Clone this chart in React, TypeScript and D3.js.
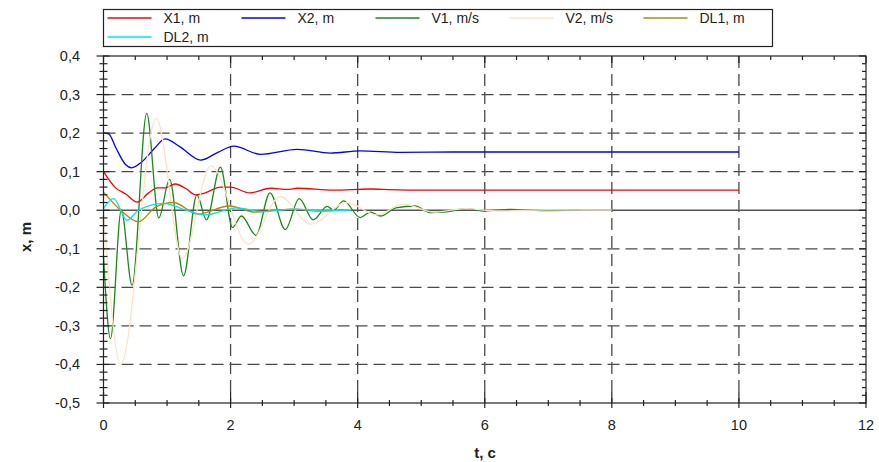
import React, { useEffect, useRef } from "react";
import * as d3 from "d3";

// legend / series
const seriesNames = ["X1, m", "X2, m", "V1, m/s", "V2, m/s", "DL1, m", "DL2, m"];
const seriesColors = ["#ff0000", "#0000ff", "#1a8a1a", "#ffe2c6", "#b8860b", "#00e6e6"];

// X1 (red)
const x1T = [0, 0.19, 0.35, 0.53, 0.71, 0.85, 0.97, 1.13, 1.29, 1.45, 1.6, 1.84, 2.0, 2.3, 2.63, 2.9, 3.05, 3.62, 4.2, 4.4, 5, 10];
const x1V = [0.1, 0.058, 0.042, 0.021, 0.045, 0.058, 0.058, 0.068, 0.057, 0.04, 0.045, 0.06, 0.06, 0.045, 0.057, 0.054, 0.057, 0.052, 0.055, 0.054, 0.052, 0.052];

// X2 (blue)
const x2T = [0, 0.08, 0.2, 0.35, 0.44, 0.6, 0.8, 0.97, 1.2, 1.53, 1.8, 2.05, 2.47, 3.05, 3.57, 4.04, 4.67, 5.5, 10];
const x2V = [0.2, 0.198, 0.16, 0.118, 0.11, 0.125, 0.16, 0.185, 0.165, 0.13, 0.15, 0.166, 0.145, 0.158, 0.148, 0.154, 0.15, 0.151, 0.151];

// V1 (green)
const v1T = [0, 0.11, 0.28, 0.45, 0.68, 0.87, 1.04, 1.26, 1.47, 1.62, 1.84, 2.03, 2.17, 2.4, 2.62, 2.86, 3.08, 3.3, 3.52, 3.62, 3.78, 4.04, 4.2, 4.36, 4.6, 4.9, 5.14, 5.4, 5.72, 6.0, 6.4, 7.0, 7.5];
const v1V = [-0.12, -0.333, 0.0, -0.195, 0.251, -0.02, 0.08, -0.17, 0.04, -0.025, 0.112, -0.045, -0.015, -0.065, 0.045, -0.05, 0.03, -0.025, 0.01, 0.0, 0.024, -0.019, -0.005, -0.015, 0.006, 0.011, -0.006, -0.004, 0.004, -0.002, 0.002, -0.001, 0.0];

// V2 (peach)
const v2T = [0, 0.27, 0.83, 1.24, 1.69, 2.28, 2.78, 3.26, 3.83, 4.3, 4.72, 5.2, 5.7, 6.2, 7.0, 8.0];
const v2V = [0.0, -0.4, 0.238, -0.125, 0.115, -0.088, 0.035, -0.036, 0.02, -0.012, 0.016, -0.005, 0.004, -0.002, 0.001, 0.0];

// DL1 (gold)
const dl1T = [0, 0.27, 0.55, 0.82, 1.1, 1.48, 1.98, 2.38, 2.7, 3.0, 3.4, 3.8];
const dl1V = [0.047, 0.0, -0.03, 0.008, 0.02, -0.01, 0.011, -0.005, 0.0, 0.003, -0.002, 0.001];

// DL2 (cyan)
const dl2T = [0, 0.16, 0.37, 0.55, 0.95, 1.3, 1.6, 2.1, 2.5, 3.0, 3.5, 3.9];
const dl2V = [0.005, 0.03, -0.026, 0.0, 0.018, 0.0, -0.012, 0.006, -0.004, 0.003, -0.002, 0.0];

const seriesT = [x1T, x2T, v1T, v2T, dl1T, dl2T];
const seriesV = [x1V, x2V, v1V, v2V, dl1V, dl2V];

const xTicks = [0, 2, 4, 6, 8, 10, 12];
const yTicks = [-0.5, -0.4, -0.3, -0.2, -0.1, 0, 0.1, 0.2, 0.3, 0.4];

const W = 879;
const H = 462;
const plot = { left: 103.5, right: 866, top: 56, bottom: 403 };
const FONT = "'Liberation Sans', Arial, sans-serif";

const fmt = (v: number) => {
  const s = Math.abs(v) < 1e-9 ? "0.0" : v.toFixed(1);
  return s.replace(".", ",");
};

const App: React.FC = () => {
  const svgRef = useRef<SVGSVGElement>(null);

  useEffect(() => {
    document.body.style.margin = "0";
    const svg = d3.select(svgRef.current);
    svg.selectAll("*").remove();

    // scales
    const x = d3.scaleLinear().domain([0, 12]).range([plot.left, plot.right]);
    const y = d3.scaleLinear().domain([-0.5, 0.4]).range([plot.bottom, plot.top]);

    // grid
    const grid = svg.append("g");
    yTicks
      .filter(v => v > -0.5 && v < 0.4 && Math.abs(v) > 1e-9)
      .forEach(v => {
        grid.append("line")
          .attr("x1", plot.left).attr("x2", plot.right)
          .attr("y1", y(v)).attr("y2", y(v))
          .attr("stroke", "#4a4a4a").attr("stroke-width", 1.3)
          .attr("stroke-dasharray", "12,6");
      });
    xTicks
      .filter(v => v > 0 && v < 12)
      .forEach(v => {
        grid.append("line")
          .attr("x1", x(v)).attr("x2", x(v))
          .attr("y1", plot.top).attr("y2", plot.bottom)
          .attr("stroke", "#4a4a4a").attr("stroke-width", 1.3)
          .attr("stroke-dasharray", "12,6");
      });
    // zero line
    grid.append("line")
      .attr("x1", plot.left).attr("x2", plot.right)
      .attr("y1", y(0)).attr("y2", y(0))
      .attr("stroke", "#555").attr("stroke-width", 1.6);

    // series
    const line = d3.line<number>()
      .curve(d3.curveMonotoneX);
    const lines = svg.append("g").attr("fill", "none");
    seriesT.forEach((ts, i) => {
      const vs = seriesV[i];
      line.x((_, j) => x(ts[j])).y((_, j) => y(vs[j]));
      lines.append("path")
        .attr("d", line(ts))
        .attr("stroke", seriesColors[i])
        .attr("stroke-width", 1.3);
    });

    // frame + ticks
    const axes = svg.append("g").attr("stroke", "#222").attr("stroke-width", 1.2);
    axes.append("rect")
      .attr("x", plot.left).attr("y", plot.top)
      .attr("width", plot.right - plot.left).attr("height", plot.bottom - plot.top)
      .attr("fill", "none");

    const yMinor = d3.range(-0.5, 0.4001, 0.02);
    yMinor.forEach(v => {
      const major = yTicks.some(t => Math.abs(t - v) < 1e-6);
      const py = y(v);
      axes.append("line")
        .attr("x1", plot.left - (major ? 7 : 4)).attr("x2", plot.left + (major ? 6 : 4))
        .attr("y1", py).attr("y2", py);
      axes.append("line")
        .attr("x1", plot.right - (major ? 7 : 4)).attr("x2", plot.right)
        .attr("y1", py).attr("y2", py);
    });
    const xMinor = d3.range(0, 12.001, 0.5);
    xMinor.forEach(v => {
      const major = xTicks.some(t => Math.abs(t - v) < 1e-6);
      const px = x(v);
      axes.append("line")
        .attr("x1", px).attr("x2", px)
        .attr("y1", plot.bottom - (major ? 11 : 3)).attr("y2", plot.bottom + (major ? 5 : 3));
      axes.append("line")
        .attr("x1", px).attr("x2", px)
        .attr("y1", plot.top).attr("y2", plot.top + (major ? 7 : 4));
    });

    // tick labels
    const labels = svg.append("g")
      .attr("font-family", FONT).attr("font-size", 14.5).attr("fill", "#222");
    yTicks.forEach(v => {
      labels.append("text")
        .attr("x", 80).attr("y", y(v))
        .attr("text-anchor", "end").attr("dominant-baseline", "central")
        .text(fmt(v));
    });
    xTicks.forEach(v => {
      labels.append("text")
        .attr("x", x(v)).attr("y", 425)
        .attr("text-anchor", "middle").attr("dominant-baseline", "central")
        .text(String(v));
    });

    // axis titles
    svg.append("text")
      .attr("x", 485).attr("y", 452)
      .attr("text-anchor", "middle").attr("dominant-baseline", "central")
      .attr("font-family", FONT).attr("font-size", 15).attr("font-weight", "bold")
      .attr("fill", "#222")
      .text("t, c");
    svg.append("text")
      .attr("transform", `translate(25, 237) rotate(-90)`)
      .attr("text-anchor", "middle").attr("dominant-baseline", "central")
      .attr("font-family", FONT).attr("font-size", 15).attr("font-weight", "bold")
      .attr("fill", "#222")
      .text("x, m");

    // legend
    const legend = svg.append("g");
    legend.append("rect")
      .attr("x", 103.5).attr("y", 9.5)
      .attr("width", 669).attr("height", 37)
      .attr("fill", "#fff").attr("stroke", "#222").attr("stroke-width", 1.2);
    seriesNames.forEach((name, i) => {
      const row = Math.floor(i / 5);
      const col = i % 5;
      const lx = 107.5 + col * 134;
      const ly = 18 + row * 19;
      legend.append("line")
        .attr("x1", lx).attr("x2", lx + 44)
        .attr("y1", ly).attr("y2", ly)
        .attr("stroke", seriesColors[i]).attr("stroke-width", 1.3);
      legend.append("text")
        .attr("x", lx + 56).attr("y", ly)
        .attr("dominant-baseline", "central")
        .attr("font-family", FONT).attr("font-size", 14).attr("fill", "#222")
        .text(name);
    });
  }, []);

  return <svg ref={svgRef} width={W} height={H} style={{ display: "block" }} />;
};

export default App;
